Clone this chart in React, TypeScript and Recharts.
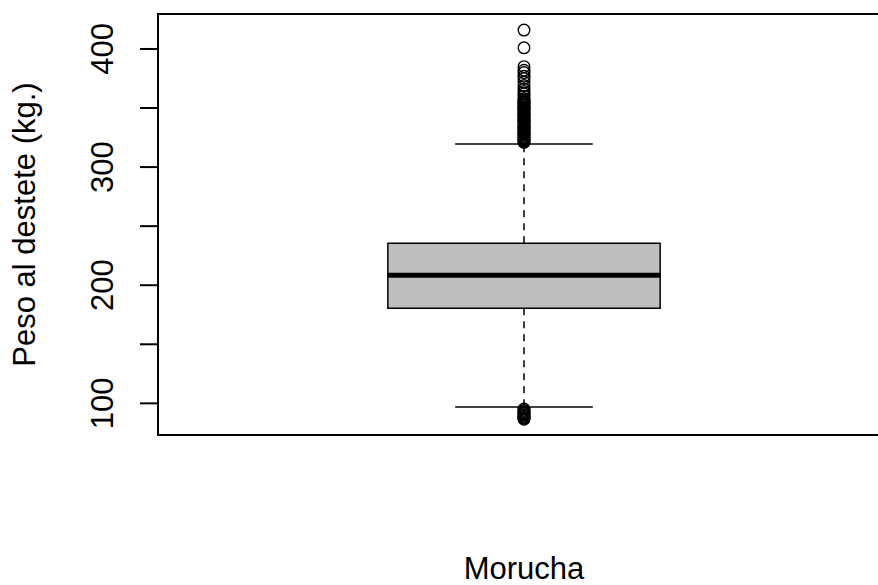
import React from "react";
import {
  ScatterChart,
  Scatter,
  XAxis,
  YAxis,
  ReferenceArea,
  ReferenceLine,
} from "recharts";

// ---- data ----
const categories = ["Morucha"];
const categoryPositions = [1];
const q1Values = [180.4];
const medianValues = [208.4];
const q3Values = [235.5];
const lowerWhiskers = [96.9];
const upperWhiskers = [319.6];
const upperOutliers = [
  321, 322, 323, 324, 325, 326, 327, 328, 329, 330, 331, 332, 333, 334, 335,
  336, 337, 338, 339, 340, 341, 342, 343, 344, 345, 346, 347, 348, 349, 350,
  351, 352, 353, 354, 355, 356, 357, 358, 360, 362, 364, 366, 369, 372, 375,
  377, 380, 382, 385, 401, 416,
];
const lowerOutliers = [95.2, 94, 93, 92, 91, 90, 89, 88, 87.5, 86.6];
const yTicks = [100, 150, 200, 250, 300, 350, 400];
const yLabelTicks = [100, 200, 300, 400];
const yDomain: [number, number] = [73.2, 429.6];
const xDomain: [number, number] = [0.5, 1.5];
const boxHalfWidth = 0.186;
const capHalfWidth = 0.094;

const upperData = upperOutliers.map((v) => ({ x: categoryPositions[0], y: v }));
const lowerData = lowerOutliers.map((v) => ({ x: categoryPositions[0], y: v }));

const FONT = '"Liberation Sans", Arial, Helvetica, sans-serif';
const FS = 31;

const YTick = (props: any) => {
  const { x, y, payload } = props;
  if (!yLabelTicks.includes(payload.value)) return null;
  const bx = x - 25;
  return (
    <text
      x={bx}
      y={y}
      transform={`rotate(-90, ${bx}, ${y})`}
      textAnchor="middle"
      fontFamily={FONT}
      fontSize={FS}
      fill="#000"
    >
      {payload.value}
    </text>
  );
};

const XTick = (props: any) => {
  const { x, y, payload } = props;
  const idx = categoryPositions.indexOf(payload.value);
  if (idx < 0) return null;
  return (
    <text
      x={x}
      y={y + 144}
      textAnchor="middle"
      fontFamily={FONT}
      fontSize={FS}
      fill="#000"
    >
      {categories[idx]}
    </text>
  );
};

const YTitle = (props: any) => {
  const vb = props.viewBox || { x: 0, y: 6, width: 150, height: 421 };
  const cx = vb.x + 27;
  const cy = vb.y + vb.height / 2;
  return (
    <text
      x={cx}
      y={cy}
      transform={`rotate(-90, ${cx}, ${cy})`}
      textAnchor="middle"
      fontFamily={FONT}
      fontSize={FS}
      fill="#000"
    >
      Peso al destete (kg.)
    </text>
  );
};

const Circle = (props: any) => {
  const { cx, cy } = props;
  return (
    <circle cx={cx} cy={cy} r={5.8} fill="none" stroke="#000" strokeWidth={1.4} />
  );
};

export default function App() {
  const c = categoryPositions[0];
  return (
    <div
      style={{
        position: "absolute",
        left: 8,
        top: 8,
        width: 870,
        height: 577,
        overflow: "hidden",
        background: "#fff",
      }}
    >
      <ScatterChart
        width={882}
        height={577}
        margin={{ top: 6, right: 0, bottom: 0, left: 0 }}
        style={{ background: "#fff" }}
      >
        <XAxis
          type="number"
          dataKey="x"
          domain={xDomain}
          allowDataOverflow
          ticks={categoryPositions}
          interval={0}
          axisLine={false}
          tickLine={false}
          tickSize={0}
          tickMargin={0}
          height={150}
          tick={<XTick />}
        />
        <YAxis
          type="number"
          dataKey="y"
          domain={yDomain}
          allowDataOverflow
          ticks={yTicks}
          interval={0}
          width={150}
          tickSize={18}
          axisLine={{ stroke: "#000", strokeWidth: 2 }}
          tickLine={{ stroke: "#000", strokeWidth: 2 }}
          tick={<YTick />}
          label={<YTitle />}
        />
        {/* frame */}
        <ReferenceArea
          x1={xDomain[0]}
          x2={xDomain[1]}
          y1={yDomain[0]}
          y2={yDomain[1]}
          fill="none"
          stroke="#000"
          strokeWidth={2}
          ifOverflow="visible"
        />
        {/* whiskers */}
        <ReferenceLine
          segment={[{ x: c, y: q3Values[0] }, { x: c, y: upperWhiskers[0] }]}
          stroke="#000"
          strokeWidth={1.5}
          strokeDasharray="7 6"
          ifOverflow="visible"
        />
        <ReferenceLine
          segment={[{ x: c, y: q1Values[0] }, { x: c, y: lowerWhiskers[0] }]}
          stroke="#000"
          strokeWidth={1.5}
          strokeDasharray="7 6"
          ifOverflow="visible"
        />
        <ReferenceLine
          segment={[
            { x: c - capHalfWidth, y: upperWhiskers[0] },
            { x: c + capHalfWidth, y: upperWhiskers[0] },
          ]}
          stroke="#000"
          strokeWidth={1.5}
          ifOverflow="visible"
        />
        <ReferenceLine
          segment={[
            { x: c - capHalfWidth, y: lowerWhiskers[0] },
            { x: c + capHalfWidth, y: lowerWhiskers[0] },
          ]}
          stroke="#000"
          strokeWidth={1.5}
          ifOverflow="visible"
        />
        {/* box */}
        <ReferenceArea
          x1={c - boxHalfWidth}
          x2={c + boxHalfWidth}
          y1={q1Values[0]}
          y2={q3Values[0]}
          fill="#bebebe"
          fillOpacity={1}
          stroke="#000"
          strokeWidth={1.5}
          ifOverflow="visible"
        />
        <ReferenceLine
          segment={[
            { x: c - boxHalfWidth, y: medianValues[0] },
            { x: c + boxHalfWidth, y: medianValues[0] },
          ]}
          stroke="#000"
          strokeWidth={5}
          ifOverflow="visible"
        />
        <Scatter data={upperData} shape={<Circle />} isAnimationActive={false} />
        <Scatter data={lowerData} shape={<Circle />} isAnimationActive={false} />
      </ScatterChart>
    </div>
  );
}
